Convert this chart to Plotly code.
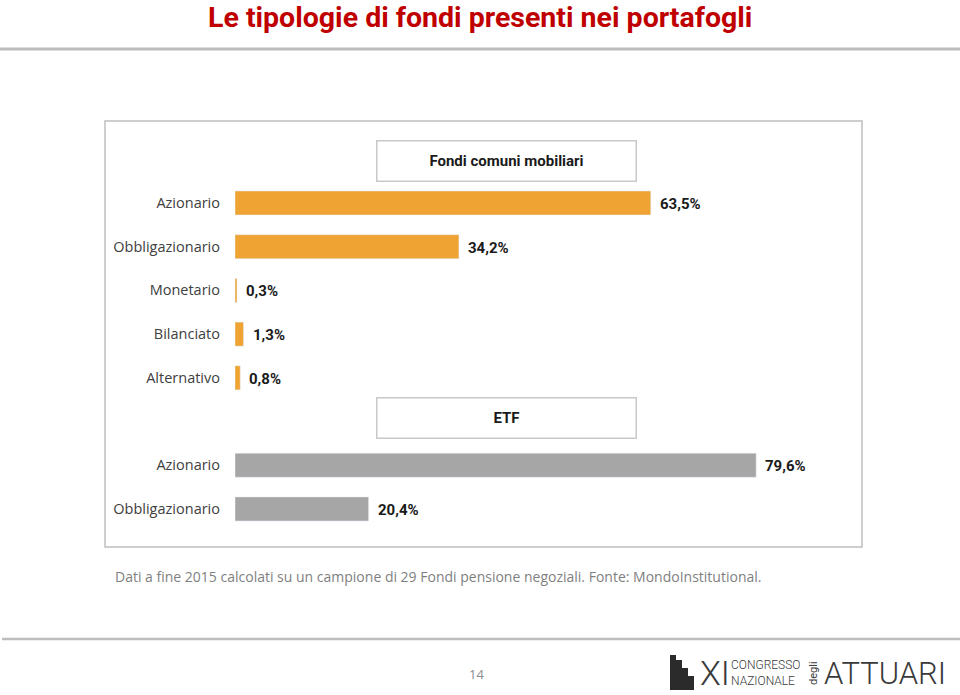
import plotly.graph_objects as go

# ---- data ----
fondi_labels = ["Azionario", "Obbligazionario", "Monetario", "Bilanciato", "Alternativo"]
fondi_values = [63.5, 34.2, 0.3, 1.3, 0.8]
etf_labels = ["Azionario", "Obbligazionario"]
etf_values = [79.6, 20.4]
fondi_rows = [0, 1, 2, 3, 4]
etf_rows = [6, 7]
header_rows = {"Fondi comuni mobiliari": -0.97, "ETF": 4.93}

title = "Le tipologie di fondi presenti nei portafogli"
note = "Dati a fine 2015 calcolati su un campione di 29 Fondi pensione negoziali. Fonte: MondoInstitutional."

ORANGE = "#EFA332"
GREY = "#A6A6A6"
FONT = "Roboto, Arial"
CAL = "Open Sans, Liberation Sans, Arial"
LOGO = "#3a3a3a"

def fmt(v):
    return f"{v:.1f}".replace(".", ",") + "%"

fig = go.Figure()
fig.add_trace(go.Bar(y=fondi_rows, x=fondi_values, orientation="h", marker_color=ORANGE,
                     width=0.55, hoverinfo="skip", showlegend=False))
fig.add_trace(go.Bar(y=etf_rows, x=etf_values, orientation="h", marker_color=GREY,
                     width=0.55, hoverinfo="skip", showlegend=False))

ann = []
for r, v in zip(fondi_rows + etf_rows, fondi_values + etf_values):
    ann.append(dict(x=v, y=r, xref="x", yref="y", text="<b>" + fmt(v) + "</b>", showarrow=False,
                    xanchor="left", xshift=7, yshift=-1, font=dict(family=FONT, size=15, color="#1a1a1a")))
for t, r in header_rows.items():
    ann.append(dict(x=41.45, y=r, xref="x", yref="y", text="<b>" + t + "</b>", showarrow=False,
                    width=256, height=37, bordercolor="#C8C8C8", borderwidth=1.5, bgcolor="white",
                    font=dict(family=FONT, size=15, color="#1a1a1a")))

fig.update_layout(
    width=960, height=695,
    margin=dict(l=105, r=98, t=121, b=148),
    paper_bgcolor="white", plot_bgcolor="white",
    barmode="overlay",
    xaxis=dict(domain=[130 / 757, 752 / 757], range=[0, 95], visible=False, fixedrange=True),
    yaxis=dict(range=[7.87, -1.876], tickvals=fondi_rows + etf_rows,
               ticktext=fondi_labels + etf_labels, showgrid=False, zeroline=False,
               showline=False, ticks="", ticklabelstandoff=14,
               tickfont=dict(family=CAL, size=14.5, color="#404040"), fixedrange=True),
)

def px_x(px):
    return (px - 105) / 757

def px_y(py):
    return (547 - py) / 426

ann.append(dict(x=px_x(480), y=px_y(17), xref="paper", yref="paper", text="<b>" + title + "</b>",
                showarrow=False, xanchor="center", yanchor="middle",
                font=dict(family=FONT, size=28.5, color="#C00000")))
ann.append(dict(x=px_x(113), y=px_y(576), xref="paper", yref="paper", text=note, showarrow=False,
                xanchor="left", yanchor="middle", font=dict(family=CAL, size=14, color="#7F7F7F")))
ann.append(dict(x=px_x(476), y=px_y(674), xref="paper", yref="paper", text="14", showarrow=False,
                xanchor="center", yanchor="middle", font=dict(family=CAL, size=13, color="#8C8C8C")))
# logo text
ann.append(dict(x=px_x(698), y=px_y(673), xref="paper", yref="paper", text="XI", showarrow=False,
                xanchor="left", yanchor="middle", font=dict(family=FONT, size=34, color=LOGO, weight=300)))
ann.append(dict(x=px_x(729), y=px_y(665), xref="paper", yref="paper", text="CONGRESSO", showarrow=False,
                xanchor="left", yanchor="middle", font=dict(family=FONT, size=12, color=LOGO, weight=300)))
ann.append(dict(x=px_x(729), y=px_y(681), xref="paper", yref="paper", text="NAZIONALE", showarrow=False,
                xanchor="left", yanchor="middle", font=dict(family=FONT, size=12, color=LOGO, weight=300)))
ann.append(dict(x=px_x(813), y=px_y(673), xref="paper", yref="paper", text="degli", showarrow=False,
                textangle=-90, xanchor="center", yanchor="middle", font=dict(family=FONT, size=11, color=LOGO)))
ann.append(dict(x=px_x(822), y=px_y(673), xref="paper", yref="paper", text="ATTUARI", showarrow=False,
                xanchor="left", yanchor="middle", font=dict(family=FONT, size=31, color=LOGO, weight=300)))
fig.update_layout(annotations=ann)

shapes = [
    # chart frame
    dict(type="rect", xref="paper", yref="paper", x0=0, x1=1, y0=0, y1=1,
         line=dict(color="#BFBFBF", width=1.5)),
    # title rule
    dict(type="line", xref="paper", yref="paper", x0=px_x(0), x1=px_x(960), y0=px_y(49), y1=px_y(49),
         line=dict(color="#BDBDBD", width=3)),
    # footer rule
    dict(type="line", xref="paper", yref="paper", x0=px_x(2), x1=px_x(960), y0=px_y(639), y1=px_y(639),
         line=dict(color="#BDBDBD", width=2.5)),
]
# logo building glyph
for (a, b, top) in [(670, 676, 655), (676, 682, 660), (682, 688, 668), (688, 694, 676)]:
    shapes.append(dict(type="rect", xref="paper", yref="paper", x0=px_x(a), x1=px_x(b),
                       y0=px_y(690), y1=px_y(top), line=dict(width=0), fillcolor="#2b2b2b"))

fig.update_layout(shapes=shapes)
fig.write_html("out.html")
